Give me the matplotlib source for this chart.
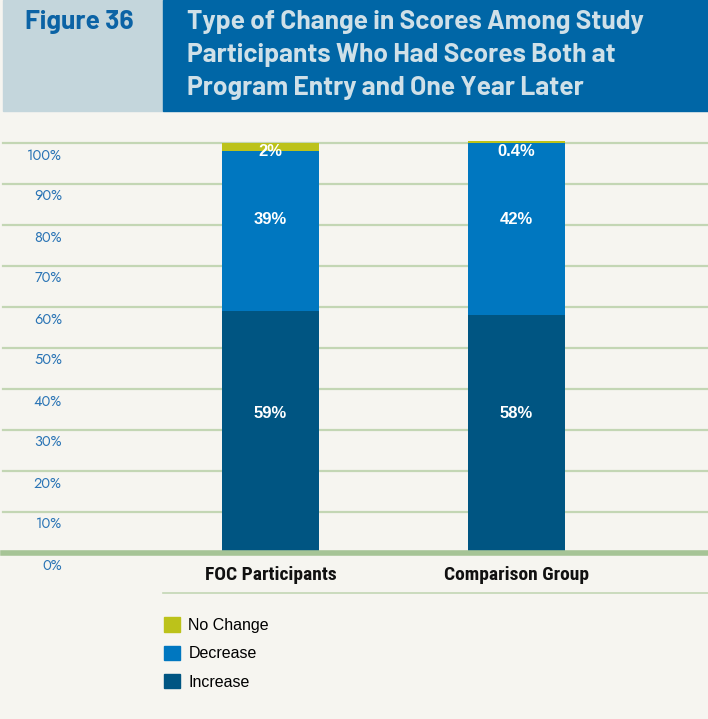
import matplotlib.pyplot as plt
from matplotlib.patches import Patch, Rectangle
from matplotlib.lines import Line2D

groups = ["FOC Participants", "Comparison Group"]
increase = [59, 58]
decrease = [39, 42]
no_change = [2, 0.4]
ticks = [0, 10, 20, 30, 40, 50, 60, 70, 80, 90, 100]
tick_labels = [f"{t}%" for t in ticks]

# label rows used in the original layout (not centred on segments)
label_rows = {"increase": 34, "decrease": 81.4, "no_change": 98.0}

BG = "#f6f5f0"
C_INC = "#005582"
C_DEC = "#0077c0"
C_NO = "#bcc21a"
GRID = "#c3d6b4"
BASE = "#a6c496"
HEAD = ["Barlow", "Barlow Semi Condensed", "Roboto Condensed", "DejaVu Sans"]
NARROW = ["Roboto Condensed", "DejaVu Sans"]
GOTHIC = ["Liberation Sans", "DejaVu Sans"]
GEO = ["Jost", "Lato", "DejaVu Sans"]

W, H = 708, 719
fig = plt.figure(figsize=(W / 100, H / 100), dpi=100, facecolor=BG)

# header boxes
fig.patches.append(Rectangle((3 / W, 1 - 111 / H), 160 / W, 111 / H,
                             transform=fig.transFigure, color="#c4d6dc", zorder=0))
fig.patches.append(Rectangle((163 / W, 1 - 111 / H), 545 / W, 111 / H,
                             transform=fig.transFigure, color="#0066a6", zorder=0))
fig.text(25 / W, 1 - 22 / H, "Figure 36", family=HEAD, weight="bold",
         fontsize=19, color="#0b63a5", va="center", ha="left")
title_lines = ["Type of Change in Scores Among Study",
               "Participants Who Had Scores Both at",
               "Program Entry and One Year Later"]
for i, line in enumerate(title_lines):
    fig.text(187 / W, 1 - (22 + 33 * i) / H, line, family=HEAD, weight="bold",
             fontsize=19, color="#cfe0e8", va="center", ha="left")

# plot area: 0% at y=553px, 100% at y=143px
ax = fig.add_axes([3 / W, (H - 553) / H, 705 / W, 410 / H])
ax.set_facecolor("none")
ax.set_ylim(0, 100)
ax.set_xlim(-1.0896, 1.782)
for s in ax.spines.values():
    s.set_visible(False)
ax.set_xticks([])
ax.set_yticks([])

for t in ticks[1:]:
    ax.axhline(t, color=GRID, lw=1.6, zorder=1, clip_on=False)
ax.axhline(0, color=BASE, lw=4, zorder=3, clip_on=False)

for t, lab in zip(ticks, tick_labels):
    ax.annotate(lab, xy=(0.0837, t), xycoords=("axes fraction", "data"),
                xytext=(0, -12), textcoords="offset pixels",
                ha="right", va="center", fontsize=10.5, family=GEO,
                color="#2a74b5")

x = [0, 1]
width = 0.395
bottoms2 = [a + b for a, b in zip(increase, decrease)]
ax.bar(x, increase, width, color=C_INC, zorder=2)
ax.bar(x, decrease, width, bottom=increase, color=C_DEC, zorder=2)
ax.bar(x, no_change, width, bottom=bottoms2, color=C_NO, zorder=2, clip_on=False)

for i in x:
    for key, vals in (("increase", increase), ("decrease", decrease),
                      ("no_change", no_change)):
        ax.text(i, label_rows[key], f"{vals[i]:g}%", ha="center", va="center",
                color="white", weight="bold", fontsize=12, zorder=4,
                family=GOTHIC)
    ax.annotate(groups[i], xy=(i, 0), xycoords="data", xytext=(0, -22),
                textcoords="offset pixels", ha="center", va="center",
                family=NARROW, weight="bold", fontsize=14, color="#111111")

fig.add_artist(Line2D([163 / W, 1], [1 - 593 / H, 1 - 593 / H],
                      transform=fig.transFigure, color=GRID, lw=1.2))

handles = [Patch(color=C_NO), Patch(color=C_DEC), Patch(color=C_INC)]
fig.legend(handles, ["No Change", "Decrease", "Increase"],
           loc="upper left", bbox_to_anchor=(150 / W, 1 - 603 / H),
           frameon=False, handlelength=1.0, handleheight=1.0,
           handletextpad=0.5, labelspacing=0.8,
           prop={"family": GOTHIC, "size": 11.5})

fig.savefig("out.png", dpi=100, facecolor=BG)
